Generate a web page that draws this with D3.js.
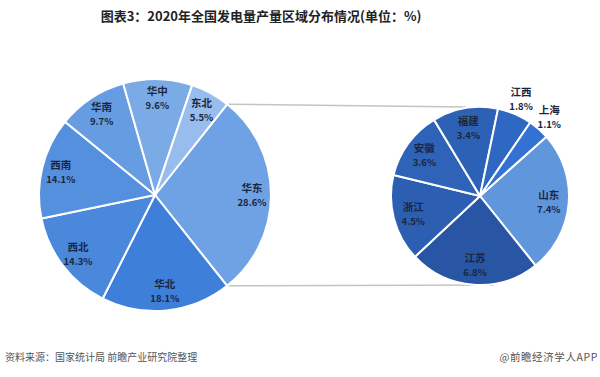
<!DOCTYPE html>
<html>
<head>
<meta charset="utf-8">
<script src="https://cdn.jsdelivr.net/npm/d3@7"></script>
<style>
  body { margin: 0; background: #fff; }
  text { font-family: "Noto Sans CJK SC", "Noto Sans", sans-serif; }
</style>
</head>
<body>
<div id="chart"></div>
<script>
// regions (main pie), clockwise from the 华东 slice
var regions = ['华东', '华北', '西北', '西南', '华南', '华中', '东北']
var regionShares = [28.6, 18.1, 14.3, 14.1, 9.7, 9.6, 5.5]
var regionColors = ['#6fa2e4', '#3e7fda', '#4a88dc', '#5590de', '#669ce2', '#7babe6', '#97bdee']

// provinces of 华东 (secondary pie)
var provinces = ['山东', '江苏', '浙江', '安徽', '福建', '江西', '上海']
var provinceShares = [7.4, 6.8, 4.5, 3.6, 3.4, 1.8, 1.1]
var provinceColors = ['#6096dc', '#2955a5', '#2c5eb2', '#2e63b8', '#2d61b6', '#2f68c2', '#3371d2']
var outsideLabels = ['江西', '上海']

var width = 600
var height = 377

var svg = d3.select('#chart')
  .append('svg')
  .attr('width', width)
  .attr('height', height)

// title
svg.append('text')
  .attr('x', 261)
  .attr('y', 21)
  .attr('text-anchor', 'middle')
  .style('font-size', '13px')
  .style('font-weight', 'bold')
  .style('fill', '#222')
  .text('图表3：2020年全国发电量产量区域分布情况(单位：%)')

var deg = Math.PI / 180

// pie centres / radii
var main = { cx: 155, cy: 195, r: 116, start: 38.5 * deg }
var sub = { cx: 480, cy: 196, r: 89, start: 48.2 * deg }

var mainArcs = d3.pie().sort(null)
  .startAngle(main.start).endAngle(main.start + 2 * Math.PI)(regionShares)
var subArcs = d3.pie().sort(null)
  .startAngle(sub.start).endAngle(sub.start + 2 * Math.PI)(provinceShares)

// connector lines between the 华东 slice and the second pie
var a0 = mainArcs[0].startAngle
var a1 = mainArcs[0].endAngle
var links = [
  [main.cx + main.r * Math.sin(a0), main.cy - main.r * Math.cos(a0), sub.cx - 14, sub.cy - sub.r],
  [main.cx + main.r * Math.sin(a1), main.cy - main.r * Math.cos(a1), sub.cx + 14, sub.cy + sub.r]
]
svg.selectAll('.link')
  .data(links)
  .enter()
  .append('line')
  .attr('x1', d => d[0]).attr('y1', d => d[1])
  .attr('x2', d => d[2]).attr('y2', d => d[3])
  .attr('stroke', '#c4c4c4')
  .attr('stroke-width', 1.5)

function drawPie (cfg, arcs, names, colors, labelR, outR) {
  var g = svg.append('g')
    .attr('transform', 'translate(' + cfg.cx + ',' + cfg.cy + ')')
  var arc = d3.arc().innerRadius(0).outerRadius(cfg.r)
  g.selectAll('path')
    .data(arcs)
    .enter()
    .append('path')
    .attr('d', arc)
    .attr('fill', (d, i) => colors[i])
    .attr('stroke', '#fff')
    .attr('stroke-width', 2)

  var labels = g.selectAll('.lbl')
    .data(arcs)
    .enter()
    .append('g')
    .attr('transform', function (d, i) {
      var m = (d.startAngle + d.endAngle) / 2
      var rr = outsideLabels.indexOf(names[i]) >= 0 ? outR : labelR
      return 'translate(' + (rr * Math.sin(m)) + ',' + (-rr * Math.cos(m)) + ')'
    })
  labels.append('text')
    .attr('text-anchor', 'middle')
    .attr('y', -3)
    .style('font-size', '10.5px')
    .style('font-weight', 'bold')
    .style('fill', '#1b2740')
    .text((d, i) => names[i])
  labels.append('text')
    .attr('text-anchor', 'middle')
    .attr('y', 11)
    .style('font-size', '9.5px')
    .style('font-weight', 'bold')
    .style('fill', '#1b2740')
    .text(d => d.data.toFixed(1) + '%')
}

drawPie(main, mainArcs, regions, regionColors, 97, 0)
drawPie(sub, subArcs, provinces, provinceColors, 69, 105)

// source notes
svg.append('text')
  .attr('x', 5)
  .attr('y', 361)
  .style('font-size', '10px')
  .style('fill', '#555')
  .text('资料来源：国家统计局 前瞻产业研究院整理')

svg.append('text')
  .attr('x', 598)
  .attr('y', 361)
  .attr('text-anchor', 'end')
  .style('font-size', '10.5px')
  .style('letter-spacing', '0.6px')
  .style('fill', '#555')
  .text('@前瞻经济学人APP')
</script>
</body>
</html>
